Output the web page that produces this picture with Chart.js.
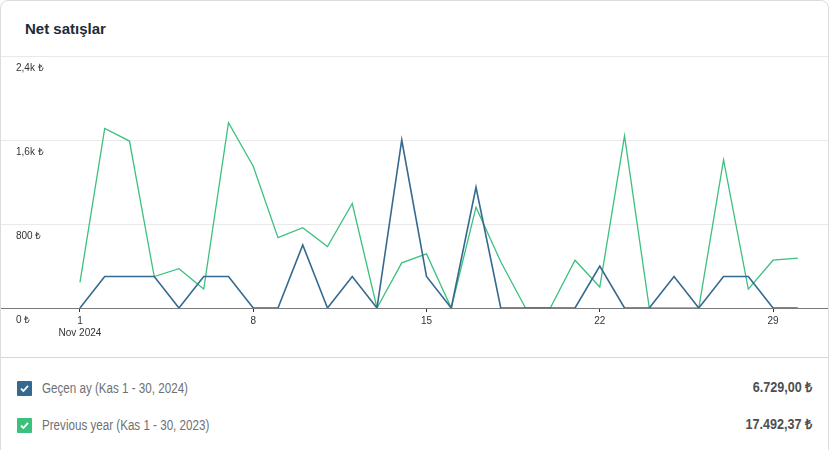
<!DOCTYPE html>
<html lang="tr">
<head>
<meta charset="utf-8">
<script src="https://cdn.jsdelivr.net/npm/chart.js@4"></script>
<style>
  html, body { margin: 0; padding: 0; background: #fff; }
  .card {
    position: absolute; left: 0; top: 0; width: 829px; height: 470px;
    box-sizing: border-box; border: 1px solid #dcdcdc; border-radius: 8px 8px 0 0;
    font-family: "Liberation Sans", Arial, sans-serif; overflow: hidden;
  }
  .title {
    position: absolute; left: 24px; top: 19px;
    font-size: 15px; font-weight: bold; color: #212b36;
  }
  .chart-wrap { position: absolute; left: 0; top: 49px; width: 827px; height: 307px; }
  .legend {
    position: absolute; left: 0; top: 356px; width: 827px; height: 120px;
    border-top: 1px solid #d6d6d6;
  }
  .row { position: absolute; left: 16px; right: 16px; height: 16px; }
  .box {
    position: absolute; left: 0; top: 0; width: 15px; height: 15px; border-radius: 1px;
  }
  .box svg { position: absolute; left: 3px; top: 3px; }
  .lbl {
    position: absolute; left: 25px; top: -1px; font-size: 14px; line-height: 17px; color: #6d7175;
    white-space: nowrap; transform: scaleX(0.83); transform-origin: 0 50%;
  }
  .val {
    position: absolute; right: 0; top: -2px; font-size: 14px; line-height: 17px; font-weight: bold; color: #4f4f4f;
    white-space: nowrap; transform: scaleX(0.9); transform-origin: 100% 50%;
  }
</style>
</head>
<body>
<div class="card">
  <div class="title">Net satışlar</div>
  <div class="chart-wrap"><canvas id="chart"></canvas></div>
  <div class="legend" id="legend"></div>
</div>
<script>
// veriler
const days = [1,2,3,4,5,6,7,8,9,10,11,12,13,14,15,16,17,18,19,20,21,22,23,24,25,26,27,28,29,30];
const lastMonth = [0,300,300,300,0,300,300,0,0,600,0,300,0,1600,300,0,1150,0,0,0,0,400,0,0,300,0,300,300,0,0];
const previousYear = [245,1710,1590,300,375,180,1765,1350,670,765,585,995,0,430,515,0,960,440,0,0,455,200,1640,0,0,0,1410,180,455,475];
const seriesNames = ['Geçen ay (Kas 1 - 30, 2024)', 'Previous year (Kas 1 - 30, 2023)'];
const seriesTotals = ['6.729,00 ₺', '17.492,37 ₺'];
const xTickDays = [1, 8, 15, 22, 29];
const xTickLabels = [['1', 'Nov 2024'], '8', '15', '22', '29'];
const yTickValues = [0, 800, 1600, 2400];
const yTickLabels = ['0 ₺', '800 ₺', '1,6k ₺', '2,4k ₺'];

const colors = ['#35698f', '#3cc07e'];
const rowTops = [23, 60];

// alt kısım (legend)
const legend = document.getElementById('legend');
seriesNames.forEach(function(name, i) {
  const row = document.createElement('div');
  row.className = 'row';
  row.style.top = rowTops[i] + 'px';
  row.innerHTML =
    '<span class="box" style="background:' + colors[i] + '">' +
    '<svg width="9" height="9" viewBox="0 0 9 9"><path d="M1 4.6 L3.4 7 L8 1.8" stroke="#fff" stroke-width="1.8" fill="none"/></svg>' +
    '</span><span class="lbl">' + name + '</span><span class="val">' + seriesTotals[i] + '</span>';
  legend.appendChild(row);
});

function toPoints(values) {
  return days.map(function(d, i) { return { x: d, y: values[i] }; });
}

const ctx = document.getElementById('chart').getContext('2d');
new Chart(ctx, {
  type: 'line',
  data: {
    datasets: [{
      label: seriesNames[0],
      data: toPoints(lastMonth),
      borderColor: colors[0],
      borderWidth: 1.6,
      pointRadius: 0,
      tension: 0
    }, {
      label: seriesNames[1],
      data: toPoints(previousYear),
      borderColor: colors[1],
      borderWidth: 1.3,
      pointRadius: 0,
      tension: 0
    }]
  },
  options: {
    responsive: true,
    maintainAspectRatio: false,
    animation: false,
    layout: { padding: { top: 6, bottom: 15, left: 0, right: 0 } },
    plugins: {
      legend: { display: false },
      tooltip: { enabled: false }
    },
    scales: {
      x: {
        type: 'linear',
        min: -2.19,
        max: 31.22,
        afterBuildTicks: function(axis) {
          axis.ticks = xTickDays.map(function(v) { return { value: v }; });
        },
        afterFit: function(axis) {
          axis.paddingLeft = 0;
          axis.paddingRight = 0;
        },
        ticks: {
          autoSkip: false,
          maxRotation: 0,
          padding: 3,
          color: '#333',
          font: { family: 'Liberation Sans', size: 10 },
          callback: function(value) {
            return xTickLabels[xTickDays.indexOf(value)];
          }
        },
        grid: { drawOnChartArea: false, drawTicks: true, tickLength: 4, color: '#333' },
        border: { display: true, color: '#7a7a7a', width: 1 }
      },
      y: {
        min: 0,
        max: 2400,
        afterBuildTicks: function(axis) {
          axis.ticks = yTickValues.map(function(v) { return { value: v }; });
        },
        afterFit: function(axis) {
          axis.paddingTop = 0;
          axis.paddingBottom = 0;
          axis.width = 0;
        },
        ticks: {
          mirror: true,
          padding: 15,
          labelOffset: 12,
          color: '#333',
          font: { family: 'Liberation Sans', size: 10 },
          callback: function(value) {
            return yTickLabels[yTickValues.indexOf(value)];
          }
        },
        grid: { drawTicks: false, color: '#e9e9e9' },
        border: { display: false }
      }
    }
  }
});
</script>
</body>
</html>
